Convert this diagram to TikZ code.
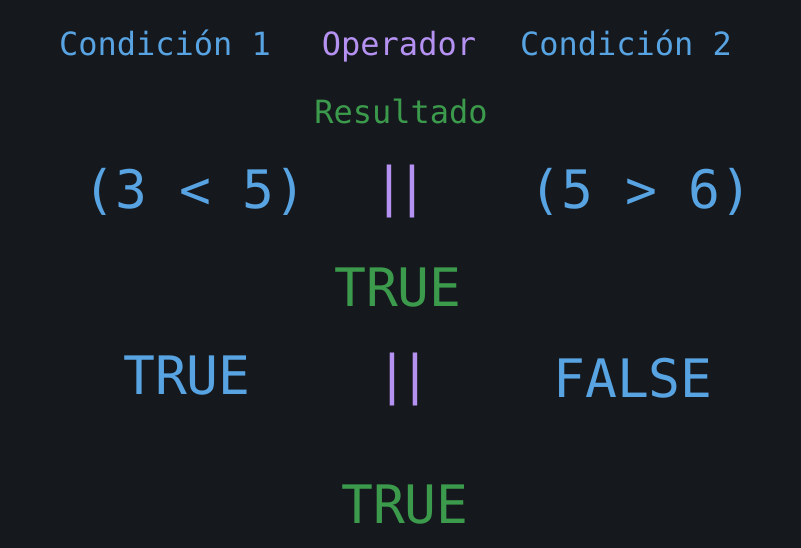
\documentclass[tikz,border=0pt]{standalone}
\usepackage{fontspec}
\setmonofont{DejaVu Sans Mono}
\usepackage{tikz}
\definecolor{bgdark}{HTML}{15181D}
\definecolor{condblue}{HTML}{58A3E2}
\definecolor{oppurple}{HTML}{B592F2}
\definecolor{resgreen}{HTML}{3B9A4B}
\newcommand{\orbars}{|\kern-9pt|}
\tikzset{
  small/.style={anchor=base, inner sep=0pt, font=\ttfamily\fontsize{32}{36}\selectfont},
  big/.style={anchor=base, inner sep=0pt, font=\ttfamily\fontsize{53}{60}\selectfont},
  cond/.style={text=condblue},
  oper/.style={text=oppurple},
  res/.style={text=resgreen}
}

\begin{document}
\begin{tikzpicture}[x=1pt,y=-1pt]
        \fill[bgdark] (0,0) rectangle (801,548);
        \useasboundingbox (0,0) rectangle (801,548);

        % headings
        \node[small,cond] (hcondA) at (165,56) {Condición 1};
        \node[small,oper] (hoper) at (399,56) {Operador};
        \node[small,cond] (hcondB) at (626,56) {Condición 2};
        \node[small,res] (hres) at (401,124) {Resultado};

        % first line
        \node[big,cond] (exprA) at (195,209) {(3 < 5)};
        \node[big,oper] (orA) at (401,206) {\orbars};
        \node[big,cond] (exprB) at (641,209) {(5 > 6)};
        \node[big,res] (resA) at (398,306) {TRUE};

        % second line
        \node[big,cond] (valA) at (187,394) {TRUE};
        \node[big,oper] (orB) at (404,393) {\orbars};
        \node[big,cond] (valB) at (633,397) {FALSE};
        \node[big,res] (resB) at (405,523) {TRUE};

\end{tikzpicture}
\end{document}
